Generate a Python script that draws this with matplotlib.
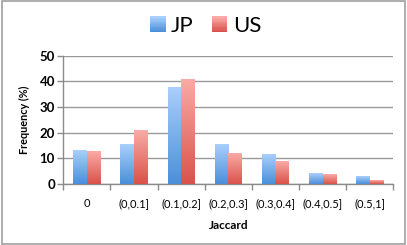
import numpy as np
import matplotlib
matplotlib.use("Agg")
import matplotlib.pyplot as plt
from matplotlib.patches import Rectangle
from matplotlib.colors import LinearSegmentedColormap
from matplotlib.legend_handler import HandlerBase

categories = ["0", "(0,0.1]", "(0.1,0.2]", "(0.2,0.3]", "(0.3,0.4]", "(0.4,0.5]", "(0.5,1]"]
jp = [13.0, 15.4, 37.8, 15.5, 11.6, 4.2, 2.9]
us = [12.6, 20.9, 40.9, 11.9, 8.9, 3.8, 1.4]
series_names = ["JP", "US"]
yticks = [0, 10, 20, 30, 40, 50]

plt.rcParams['font.family'] = ['Lato', 'DejaVu Sans']

blue_cmap = LinearSegmentedColormap.from_list("b", ["#4a8fd9", "#aacffb"])
red_cmap = LinearSegmentedColormap.from_list("r", ["#d9524a", "#faaba6"])

fig = plt.figure(figsize=(4.07, 2.45), dpi=100)
fig.patch.set_facecolor("white")
fig.patches.append(Rectangle((0.004, 0.006), 0.992, 0.99, transform=fig.transFigure,
                             fill=False, edgecolor="#a0a0a0", linewidth=1.2))

ax = fig.add_axes([0.1556, 0.250, 0.8108, 0.5227])
x = np.arange(len(categories))
w = 0.29
grad = np.linspace(0, 1, 256).reshape(-1, 1)

for vals, off, cmap in [(jp, -w / 2, blue_cmap), (us, w / 2, red_cmap)]:
    bars = ax.bar(x + off, vals, width=w, color="none", edgecolor="none", zorder=3)
    for b in bars:
        x0, y0 = b.get_x(), b.get_y()
        im = ax.imshow(grad, cmap=cmap, aspect="auto", origin="lower",
                       extent=[x0, x0 + b.get_width(), y0, y0 + b.get_height()], zorder=3)
        im.set_clip_path(b)

ax.set_xlim(-0.5, len(categories) - 0.5)
ax.set_ylim(0, 50)
ax.set_yticks(yticks)
ax.set_yticklabels([str(t) for t in yticks], fontsize=9.5, fontweight="bold")
ax.yaxis.grid(True, color="#9a9a9a", linewidth=1.0, zorder=0)
ax.set_axisbelow(True)

ax.set_xticks(x)
ax.set_xticklabels(categories, fontsize=8)
ax.tick_params(axis="x", length=0, pad=10)
ax.set_xticks(np.arange(-0.5, len(categories)), minor=True)
ax.tick_params(axis="x", which="minor", length=4, color="#8a8a8a", width=1)
ax.tick_params(axis="y", length=4, color="#8a8a8a", width=1, pad=2)

for s in ["top", "right"]:
    ax.spines[s].set_visible(False)
for s in ["left", "bottom"]:
    ax.spines[s].set_color("#8a8a8a")
    ax.spines[s].set_linewidth(1.0)

ax.set_ylabel("Frequency (%)", fontsize=7.8, fontweight="bold", labelpad=7)
ax.set_xlabel("Jaccard", fontsize=8.5, fontweight="bold", labelpad=8)


class GradHandler(HandlerBase):
    def __init__(self, cmap):
        super().__init__()
        self.cmap = cmap

    def create_artists(self, legend, orig_handle, xdescent, ydescent, width, height, fontsize, trans):
        arts = []
        n = 12
        size = height * 1.0
        x0 = xdescent + (width - size) / 2
        y0 = -ydescent - (size - height) / 2
        for i in range(n):
            r = Rectangle((x0, y0 + i * size / n), size, size / n + 0.3,
                          facecolor=self.cmap(i / (n - 1)), edgecolor="none", transform=trans)
            arts.append(r)
        return arts


h1 = Rectangle((0, 0), 1, 1)
h2 = Rectangle((0, 0), 1, 1)
fig.legend([h1, h2], series_names, loc="center", bbox_to_anchor=(0.505, 0.893),
           ncol=2, frameon=False, fontsize=16, handlelength=0.7, handletextpad=0.25,
           columnspacing=0.8,
           handler_map={h1: GradHandler(blue_cmap), h2: GradHandler(red_cmap)})

fig.savefig("out.png", dpi=100, facecolor="white")
